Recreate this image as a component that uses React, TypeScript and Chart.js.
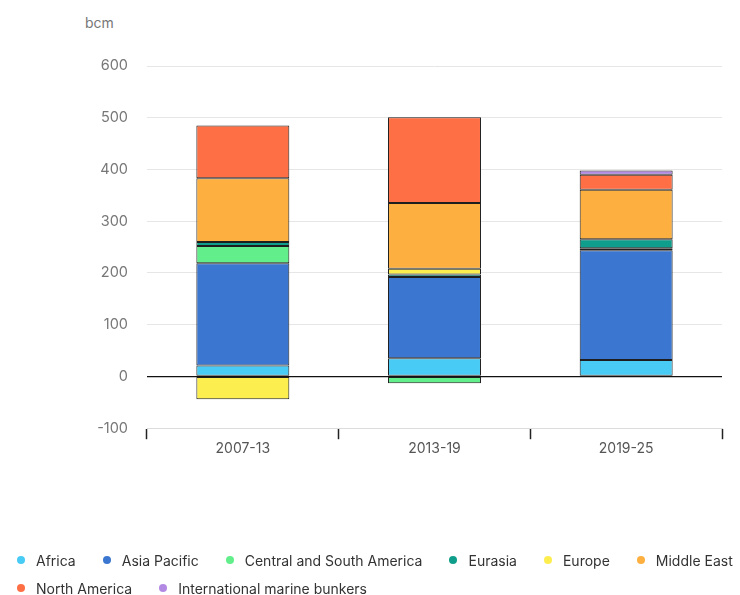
import React, { useEffect, useRef } from "react";
import { Chart, registerables } from "chart.js";

Chart.register(...registerables);

const categories = ["2007-13", "2013-19", "2019-25"];
const seriesNames = [
  "Africa",
  "Asia Pacific",
  "Central and South America",
  "Eurasia",
  "Europe",
  "Middle East",
  "North America",
  "International marine bunkers",
];
const africa = [21, 35, 32];
const asiaPacific = [198, 157, 212];
const centralSouthAmerica = [33, -13, 4];
const eurasia = [8, 5, 17];
const europe = [-44, 11, 0];
const middleEast = [123, 127, 96];
const northAmerica = [102, 166, 29];
const marineBunkers = [0, 0, 8];
const seriesColors = [
  "#48cbf5",
  "#3b77d0",
  "#62ee8b",
  "#0f9e8b",
  "#fcee4e",
  "#fdb03f",
  "#ff6f45",
  "#b38ae3",
];
const yTicks = [-100, 0, 100, 200, 300, 400, 500, 600];
const unitLabel = "bcm";

const FONT = "Inter, 'Open Sans', sans-serif";

export default function App() {
  const canvasRef = useRef<HTMLCanvasElement | null>(null);

  useEffect(() => {
    if (!canvasRef.current) return;
    const values = [
      africa,
      asiaPacific,
      centralSouthAmerica,
      eurasia,
      europe,
      middleEast,
      northAmerica,
      marineBunkers,
    ];
    const chart = new Chart(canvasRef.current, {
      type: "bar",
      data: {
        labels: categories,
        datasets: seriesNames.map((name, i) => ({
          label: name,
          data: values[i],
          backgroundColor: seriesColors[i],
          borderColor: "#1e1e1e",
          borderWidth: 1,
          borderSkipped: false,
          barPercentage: 0.485,
          categoryPercentage: 1,
        })),
      },
      options: {
        animation: false,
        responsive: true,
        maintainAspectRatio: false,
        layout: { padding: { top: 66, right: 18, bottom: 12, left: 0 } },
        plugins: {
          legend: { display: false },
          tooltip: { enabled: false },
        },
        scales: {
          x: {
            stacked: true,
            grid: {
              offset: true,
              drawOnChartArea: false,
              drawTicks: true,
              tickLength: 11,
              tickColor: "#222",
              tickWidth: 1.5,
            },
            border: { display: true, color: "#dcdcdc" },
            ticks: {
              color: "#555",
              padding: 1,
              font: { family: FONT, size: 14 },
            },
          },
          y: {
            stacked: true,
            min: yTicks[0],
            max: yTicks[yTicks.length - 1],
            afterBuildTicks: (scale: any) => {
              scale.ticks = yTicks.map((v) => ({ value: v }));
            },
            afterFit: (scale: any) => {
              scale.width = 147;
            },
            grid: {
              drawTicks: false,
              color: (ctx: any) =>
                ctx.tick && ctx.tick.value === 0 ? "#111" : "#e6e6e6",
              lineWidth: (ctx: any) =>
                ctx.tick && ctx.tick.value === 0 ? 1.3 : 1,
            },
            border: { display: false },
            ticks: {
              color: "#777",
              padding: 19,
              font: { family: FONT, size: 14.5 },
            },
          },
        },
      },
    });
    return () => chart.destroy();
  }, []);

  const rows = [seriesNames.slice(0, 6), seriesNames.slice(6)];

  return (
    <div
      style={{
        position: "fixed",
        left: 0,
        top: 0,
        width: 740,
        height: 595,
        background: "#fff",
        fontFamily: FONT,
      }}
    >
      <div
        style={{
          position: "absolute",
          left: 85,
          top: 14,
          fontSize: 14,
          color: "#777",
        }}
      >
        {unitLabel}
      </div>
      <div style={{ position: "absolute", left: 0, top: 0, width: 740, height: 470 }}>
        <canvas ref={canvasRef} />
      </div>
      <div style={{ position: "absolute", left: 17, top: 546 }}>
        {rows.map((row, r) => (
          <div
            key={r}
            style={{ display: "flex", flexWrap: "nowrap", height: 28, alignItems: "center" }}
          >
            {row.map((name) => {
              const idx = seriesNames.indexOf(name);
              return (
                <div
                  key={name}
                  style={{ display: "flex", alignItems: "center", marginRight: 27, whiteSpace: "nowrap" }}
                >
                  <span
                    style={{
                      display: "inline-block",
                      width: 8,
                      height: 8,
                      borderRadius: "50%",
                      background: seriesColors[idx],
                      marginRight: 11,
                    }}
                  />
                  <span style={{ fontSize: 14, color: "#333" }}>{name}</span>
                </div>
              );
            })}
          </div>
        ))}
      </div>
    </div>
  );
}
